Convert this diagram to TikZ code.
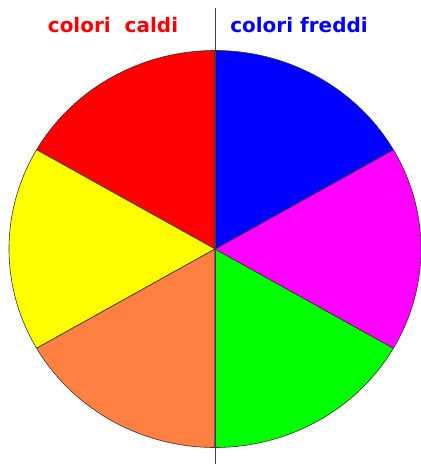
\documentclass[tikz,border=0pt]{standalone}
\usepackage{fontspec}
\setmainfont{DejaVu Sans}
\definecolor{cRed}{HTML}{FF0000}
\definecolor{cYellow}{HTML}{FFFF00}
\definecolor{cOrange}{HTML}{FF8040}
\definecolor{cGreen}{HTML}{00FF00}
\definecolor{cMagenta}{HTML}{FF00FF}
\definecolor{cBlue}{HTML}{0000FF}
\tikzset{
  sector/.style = {draw=black!80, line width=0.6pt, line join=round},
  divider/.style = {draw=black!75, line width=1pt},
  title/.style  = {font=\bfseries\fontsize{20}{22}\selectfont, inner sep=0pt, anchor=base},
}
\begin{document}
\begin{tikzpicture}[x=1pt,y=1pt]
  \useasboundingbox (0,0) rectangle (421,464);
  \coordinate (c) at (215,215);

  % sei spicchi della ruota
  \foreach \a/\col in {90/cRed,150/cYellow,210/cOrange,270/cGreen,330/cMagenta,30/cBlue}
    \filldraw[sector, fill=\col] (c) -- ++(\a:206pt and 198.5pt)
      arc[start angle=\a, delta angle=60, x radius=206pt, y radius=198.5pt] -- cycle;

  \coordinate (top) at (215,456);
  \coordinate (bot) at (215,0);
  \draw[divider] (top) -- (bot);

  \node[title, text=cRed]  (caldi)  at (113,431) {colori\ \ caldi};
  \node[title, text=cBlue] (freddi) at (299,431) {colori freddi};
\end{tikzpicture}
\end{document}
